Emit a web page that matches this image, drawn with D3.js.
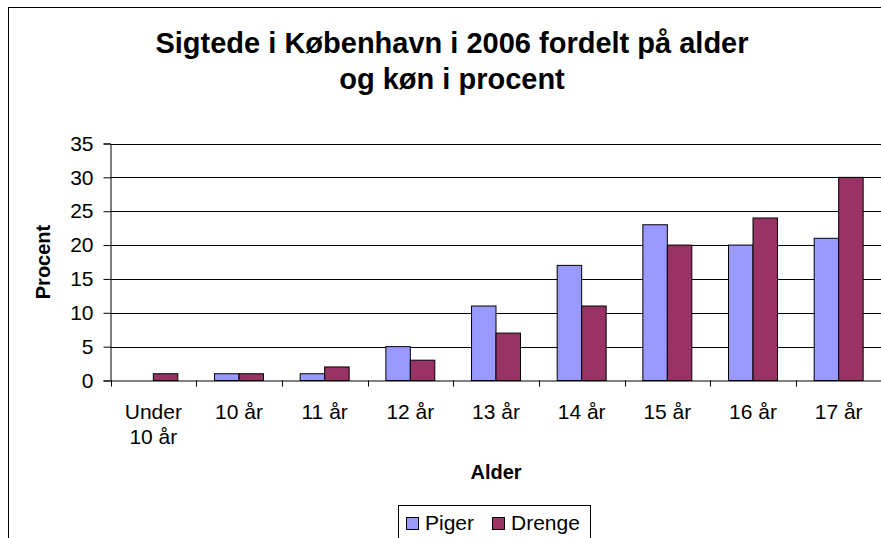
<!DOCTYPE html>
<html>
<head>
<meta charset="utf-8">
<script src="https://cdn.jsdelivr.net/npm/d3@7"></script>
<style>
    body { margin: 0; background: #fff; }
    svg { display: block; font-family: "Liberation Sans", Arial, sans-serif; }
</style>
</head>
<body>
<svg id="chart"></svg>
<script>
let categories = [["Under", "10 år"], ["10 år"], ["11 år"], ["12 år"], ["13 år"], ["14 år"], ["15 år"], ["16 år"], ["17 år"]];
let series = ["Piger", "Drenge"];
let piger = [0, 1, 1, 5, 11, 17, 23, 20, 21];
let drenge = [1, 1, 2, 3, 7, 11, 20, 24, 30];
let yTicks = [0, 5, 10, 15, 20, 25, 30, 35];
let colors = ["#9999ff", "#993366"];

let w = 881, h = 538;
let pLeft = 110.5, pRight = 881.5, pTop = 143.5, pBottom = 380.5;

let svg = d3.select('#chart')
    .attr('width', w)
    .attr('height', h);

// outer chart frame (runs off the picture)
svg.append('rect')
    .attr('x', 8.5).attr('y', 7.5)
    .attr('width', 900).attr('height', 600)
    .attr('fill', 'none').attr('stroke', '#000');

//title
let title = svg.append('text')
    .attr('text-anchor', 'middle')
    .style('font-size', '29px')
    .style('font-weight', 'bold');
title.append('tspan').attr('x', 452).attr('y', 53).text('Sigtede i København i 2006 fordelt på alder');
title.append('tspan').attr('x', 452).attr('y', 89).text('og køn i procent');

let keys = categories.map((d, i) => i);

let xScale = d3.scaleBand()
    .domain(keys)
    .range([pLeft, pRight]);

let inner = d3.scaleBand()
    .domain(series)
    .range([0, xScale.bandwidth()])
    .paddingInner(0)
    .paddingOuter(0.75);

let yScale = d3.scaleLinear()
    .domain([0, 35])
    .range([pBottom, pTop]);

//gridlines
svg.append('g')
    .selectAll('line')
    .data(yTicks.filter(d => d > 0))
    .enter()
    .append('line')
    .attr('x1', pLeft).attr('x2', pRight)
    .attr('y1', d => Math.round(yScale(d)) + 0.5)
    .attr('y2', d => Math.round(yScale(d)) + 0.5)
    .attr('stroke', '#000');

//bars
let data = keys.map(i => ({ i: i, values: [piger[i], drenge[i]] }));

let groups = svg.append('g')
    .selectAll('g')
    .data(data)
    .enter()
    .append('g')
    .attr('transform', d => 'translate(' + xScale(d.i) + ',0)');

groups.selectAll('rect')
    .data(d => d.values.map((v, j) => ({ v: v, s: series[j], c: colors[j] })).filter(d => d.v > 0))
    .enter()
    .append('rect')
    .attr('x', d => inner(d.s))
    .attr('y', d => yScale(d.v))
    .attr('width', inner.bandwidth())
    .attr('height', d => pBottom - yScale(d.v))
    .attr('fill', d => d.c)
    .attr('stroke', '#000')
    .attr('stroke-width', 1);

//y-axis
let yAxis = d3.axisLeft(yScale)
    .tickValues(yTicks)
    .tickSize(7)
    .tickPadding(10);

let gy = svg.append('g')
    .attr('transform', 'translate(' + pLeft + ',0)')
    .call(yAxis);
gy.select('.domain').attr('stroke', '#000');
gy.selectAll('.tick line').attr('stroke', '#000');
gy.selectAll('.tick text')
    .attr('fill', '#000')
    .style('font-size', '21px')
    .style('font-family', '"Liberation Sans", Arial, sans-serif');

//x-axis
let xAxis = d3.axisBottom(xScale)
    .tickSize(0)
    .tickFormat('');

let gx = svg.append('g')
    .attr('transform', 'translate(0,' + pBottom + ')')
    .call(xAxis);
gx.select('.domain').attr('stroke', '#000');

// category separators below the axis
svg.append('g')
    .selectAll('line')
    .data(keys)
    .enter()
    .append('line')
    .attr('x1', d => Math.round(xScale(d)) + 0.5)
    .attr('x2', d => Math.round(xScale(d)) + 0.5)
    .attr('y1', pBottom).attr('y2', pBottom + 6)
    .attr('stroke', '#000');

// category labels
let labels = svg.append('g')
    .selectAll('text')
    .data(keys)
    .enter()
    .append('text')
    .attr('text-anchor', 'middle')
    .style('font-size', '21px');
labels.each(function (d) {
    let t = d3.select(this);
    categories[d].forEach((line, k) => {
        t.append('tspan')
            .attr('x', xScale(d) + xScale.bandwidth() / 2)
            .attr('y', 419 + k * 25)
            .text(line);
    });
});

//y-axis title
svg.append('text')
    .attr('transform', 'rotate(-90)')
    .attr('x', -262)
    .attr('y', 50)
    .style('text-anchor', 'middle')
    .style('font-size', '20px')
    .style('font-weight', 'bold')
    .text('Procent');

//x-axis title
svg.append('text')
    .attr('x', 496)
    .attr('y', 479)
    .style('text-anchor', 'middle')
    .style('font-size', '20px')
    .style('font-weight', 'bold')
    .text('Alder');

//legend
let legend = svg.append('g');
legend.append('rect')
    .attr('x', 398.5).attr('y', 505.5)
    .attr('width', 192).attr('height', 60)
    .attr('fill', '#fff').attr('stroke', '#000');

let legendX = [406, 492];
series.forEach((s, j) => {
    legend.append('rect')
        .attr('x', legendX[j] + 0.5).attr('y', 517.5)
        .attr('width', 12).attr('height', 12)
        .attr('fill', colors[j]).attr('stroke', '#000');
    legend.append('text')
        .attr('x', legendX[j] + 19)
        .attr('y', 530)
        .style('font-size', '21px')
        .text(s);
});
</script>
</body>
</html>
